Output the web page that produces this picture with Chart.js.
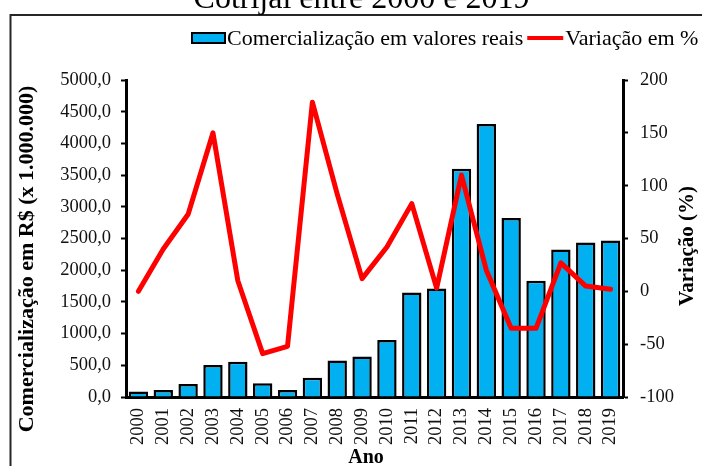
<!DOCTYPE html>
<html><head><meta charset="utf-8">
<script src="https://cdn.jsdelivr.net/npm/chart.js@4/dist/chart.umd.min.js"></script>
<style>html,body{margin:0;padding:0;background:#fff}#wrap{width:702px;height:466px}</style>
</head><body><div id="wrap"><canvas id="c" width="702" height="466"></canvas></div>
<script>
const years = ['2000','2001','2002','2003','2004','2005','2006','2007','2008','2009','2010','2011','2012','2013','2014','2015','2016','2017','2018','2019'];
const comercializacao = [85,110,205,505,555,215,110,305,575,640,900,1650,1710,3600,4305,2825,1835,2325,2435,2470];
const variacao = [0,40,73,150,10,-59,-52,179,92,12,42,83,3,110,20,-35,-35,27,5,2];
const chartTitle = 'Cotrijal entre 2000 e 2019';
const leftTitle = 'Comercialização em R$ (x 1.000.000)';
const rightTitle = 'Variação (%)';
const xTitle = 'Ano';
const legendLabels = ['Comercialização em valores reais', 'Variação em %'];

const SERIF = "'Liberation Serif','Times New Roman',serif";
const tickFont = {family: SERIF, size: 18.5};
const tickColor = '#111';

const deco = {
  id: 'deco',
  beforeDraw(chart) {
    const ctx = chart.ctx;
    ctx.save();
    ctx.fillStyle = '#fff';
    ctx.fillRect(0, 0, chart.width, chart.height);
    ctx.strokeStyle = '#262626';
    ctx.lineWidth = 2;
    ctx.beginPath();
    ctx.moveTo(10.5, 470);
    ctx.lineTo(10.5, 15);
    ctx.lineTo(710, 15);
    ctx.stroke();
    ctx.restore();
  },
  afterDraw(chart) {
    const ctx = chart.ctx;
    ctx.save();
    // title (cut at the top)
    ctx.fillStyle = '#000';
    ctx.font = '32px ' + SERIF;
    ctx.textAlign = 'center';
    ctx.textBaseline = 'alphabetic';
    ctx.fillText(chartTitle, 361.5, 8);
    // legend
    ctx.font = '22px ' + SERIF;
    ctx.textAlign = 'left';
    let x = 192;
    ctx.fillStyle = '#00B0F0';
    ctx.fillRect(x, 33, 33, 10);
    ctx.strokeStyle = '#000';
    ctx.lineWidth = 2;
    ctx.strokeRect(x, 33, 33, 10);
    x += 35;
    ctx.fillStyle = '#000';
    ctx.fillText(legendLabels[0], x, 45);
    x += ctx.measureText(legendLabels[0]).width + 4;
    ctx.strokeStyle = '#FF0000';
    ctx.lineWidth = 4;
    ctx.beginPath();
    ctx.moveTo(x, 38);
    ctx.lineTo(x + 36, 38);
    ctx.stroke();
    x += 38;
    ctx.fillText(legendLabels[1], x, 45);
    // axis titles
    ctx.textAlign = 'center';
    ctx.textBaseline = 'middle';
    ctx.font = 'bold 22px ' + SERIF;
    ctx.save();
    ctx.translate(27.5, 259);
    ctx.rotate(-Math.PI / 2);
    ctx.fillText(leftTitle, 0, 0);
    ctx.restore();
    ctx.font = 'bold 21px ' + SERIF;
    ctx.save();
    ctx.translate(688, 246);
    ctx.rotate(-Math.PI / 2);
    ctx.fillText(rightTitle, 0, 0);
    ctx.restore();
    ctx.font = 'bold 20px ' + SERIF;
    ctx.fillText(xTitle, 366, 458);
    ctx.restore();
  }
};

const fmt1 = v => Number(v).toFixed(1).replace('.', ',');

new Chart(document.getElementById('c'), {
  type: 'bar',
  data: {
    labels: years,
    datasets: [
      {
        type: 'line', label: legendLabels[1], data: variacao, yAxisID: 'y1',
        borderColor: '#FF0000', backgroundColor: '#FF0000', borderWidth: 5,
        pointRadius: 0, tension: 0, borderJoinStyle: 'round', borderCapStyle: 'round', order: 0
      },
      {
        type: 'bar', label: legendLabels[0], data: comercializacao, yAxisID: 'y',
        backgroundColor: '#00B0F0', borderColor: '#000', borderWidth: 2.5,
        categoryPercentage: 1, barPercentage: 0.78, order: 1
      }
    ]
  },
  options: {
    responsive: false, animation: false, devicePixelRatio: 1,
    layout: {padding: {top: 80, left: 0, right: 0, bottom: 0}},
    plugins: {legend: {display: false}, title: {display: false}, tooltip: {enabled: false}},
    scales: {
      x: {
        offset: true,
        grid: {display: false, drawTicks: false},
        border: {display: true, color: '#000', width: 3},
        ticks: {font: tickFont, color: tickColor, minRotation: 90, maxRotation: 90, padding: 11, autoSkip: false},
        afterFit: s => { s.height = 69; }
      },
      y: {
        position: 'left', min: 0, max: 5000,
        ticks: {stepSize: 500, callback: fmt1, font: tickFont, color: tickColor, padding: 10},
        grid: {display: true, drawOnChartArea: false, drawTicks: true, tickLength: 5, tickWidth: 2, tickColor: '#000'},
        border: {display: true, color: '#000', width: 3},
        afterFit: s => { s.width = 126; }
      },
      y1: {
        position: 'right', min: -100, max: 200,
        ticks: {stepSize: 50, font: tickFont, color: tickColor, padding: 12},
        grid: {display: true, drawOnChartArea: false, drawTicks: true, tickLength: 5, tickWidth: 2, tickColor: '#000'},
        border: {display: true, color: '#000', width: 3},
        afterFit: s => { s.width = 79; }
      }
    }
  },
  plugins: [deco]
});
</script>
</body></html>
